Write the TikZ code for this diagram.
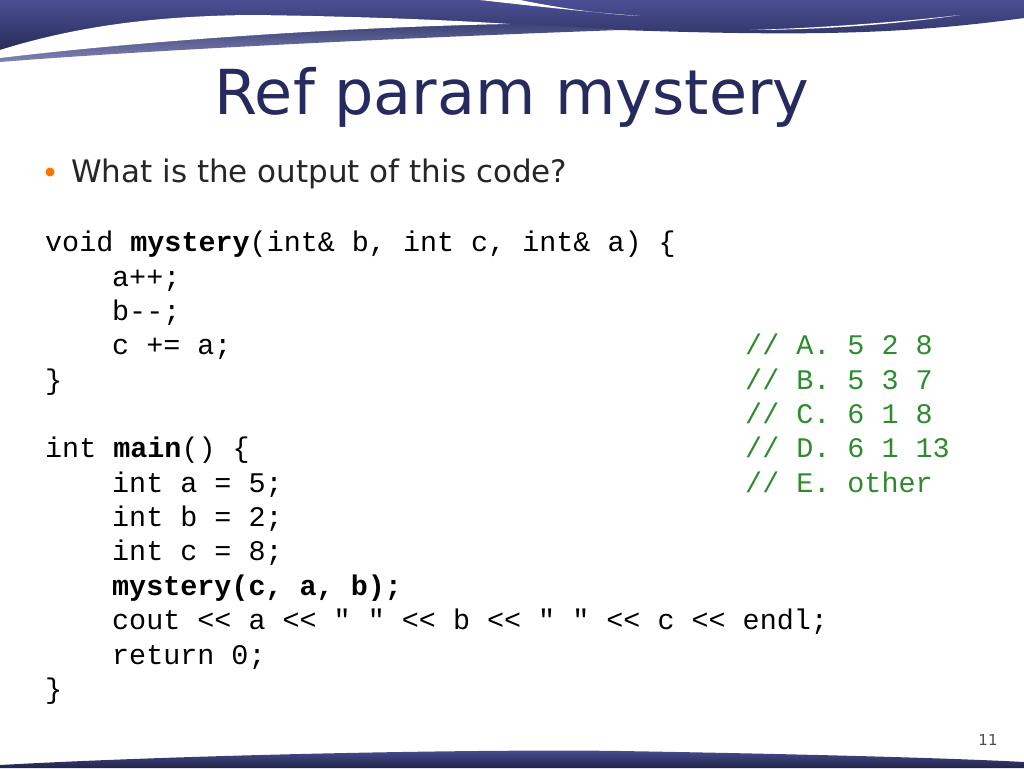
\documentclass[tikz,border=0pt]{standalone}
\usepackage{fontspec}
\setmainfont{DejaVu Sans}
\setmonofont{Liberation Mono}
\begin{document}
\begin{tikzpicture}[x=1pt,y=-1pt,
  code/.style={anchor=base west,inner sep=0pt,font=\ttfamily\fontsize{28.4}{30}\selectfont},
  cmt/.style={code,text=cgreen}]
\definecolor{navy}{HTML}{2E3468}
\definecolor{navyl}{HTML}{4A4F94}
\definecolor{cgreen}{HTML}{2E8B2E}
\definecolor{tnavy}{HTML}{262A5E}
\useasboundingbox (0,0) rectangle (1024,768);
\fill[white] (0,0) rectangle (1024,768);
% top band
\shade[top color=navyl,bottom color=navy!80!black] (0,0) -- (1024,0) -- (1024,18) .. controls (900,35) and (800,36) .. (620,30) .. controls (400,22) and (150,25) .. (0,55) -- cycle;
\shade[top color=navy,bottom color=navyl!70] (0,55) .. controls (100,30) and (200,15) .. (330,16) .. controls (420,18) and (500,22) .. (620,30) .. controls (400,38) and (150,50) .. (0,62) -- cycle;
\fill[white] (0,50) .. controls (80,25) and (160,16) .. (250,15) .. controls (350,16) and (450,20) .. (510,24) .. controls (350,27) and (150,40) .. (0,58) -- cycle;
\fill[white] (480,0) -- (520,0) .. controls (560,8) and (600,14) .. (640,16) .. controls (600,13) and (550,8) .. (480,0) -- cycle;
\fill[white] (750,30) .. controls (820,28) and (900,22) .. (960,15) .. controls (900,24) and (820,30) .. (750,30) -- cycle;
% bottom band
\shade[top color=navyl,bottom color=navy!70!black] (0,768) -- (0,765) .. controls (200,754) and (500,749) .. (620,751) .. controls (800,754) and (950,758) .. (1024,762) -- (1024,768) -- cycle;
% title
\node[text=tnavy,font=\fontsize{62}{70}\selectfont] (title) at (512,97) {Ref param mystery};
\fill[orange!90!red] (50,172) circle (4.5);
\node[anchor=base west,inner sep=0pt,font=\fontsize{31}{34}\selectfont,text=black!85] (q) at (71,182) {What is the output of this code?};
% code
\node[code] (l1) at (45,251) {void \textbf{mystery}(int\& b, int c, int\& a) \{};
\node[code] (l2) at (112,286) {a++;};
\node[code] (l3) at (112,320) {b-{}-;};
\node[code] (l4) at (112,354) {c += a;};
\node[code] (l5) at (45,389) {\}};
\node[code] (l7) at (45,457) {int \textbf{main}() \{};
\node[code] (l8) at (112,492) {int a = 5;};
\node[code] (l9) at (112,526) {int b = 2;};
\node[code] (l10) at (112,560) {int c = 8;};
\node[code] (l11) at (112,595) {\textbf{mystery(c, a, b);}};
\node[code] (l12) at (112,629) {cout << a << " " << b << " " << c << endl;};
\node[code] (l13) at (112,664) {return 0;};
\node[code] (l14) at (45,698) {\}};
\node[cmt] (ca) at (745,354) {// A. 5 2 8};
\node[cmt] (cb) at (745,389) {// B. 5 3 7};
\node[cmt] (cc) at (745,423) {// C. 6 1 8};
\node[cmt] (cd) at (745,457) {// D. 6 1 13};
\node[cmt] (ce) at (745,492) {// E. other};
\node[font=\fontsize{15}{16}\selectfont,text=black!70] (pg) at (988,740) {11};
\end{tikzpicture}
\end{document}
